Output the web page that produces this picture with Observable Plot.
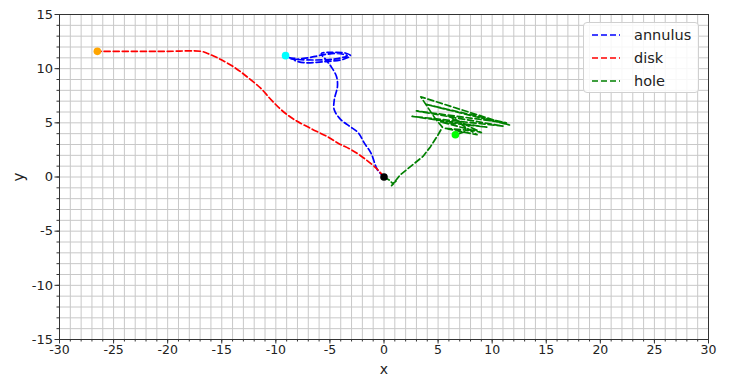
<!DOCTYPE html>
<html>
<head>
<meta charset="utf-8">
<script src="https://cdn.jsdelivr.net/npm/d3@7"></script>
<script src="https://cdn.jsdelivr.net/npm/@observablehq/plot@0.6"></script>
<style>
  body { margin: 0; background: #fff; font-family: "DejaVu Sans", sans-serif; }
  #wrap { position: relative; width: 732px; height: 377px; }
  #legend { position: absolute; left: 583px; top: 22px; width: 116px; height: 71px;
    box-sizing: border-box; border: 1px solid #d0d0d0; border-radius: 4px;
    background: rgba(255,255,255,0.85); font-size: 14.5px; color: #222; }
  .row { position: absolute; left: 8px; display: flex; align-items: center; height: 18px; }
  .row span { margin-left: 14px; }
</style>
</head>
<body>
<div id="wrap"><div id="legend"></div></div>
<script>
// series names and colours
const seriesNames = ["annulus", "disk", "hole"];
const seriesColors = ["#0000ff", "#ff0000", "#008000"];

// annulus path (blue)
const annulusX = [0, -0.6, -1.2, -1.8, -2.4, -3.2, -4.0, -4.6, -4.6, -4.3, -4.4, -4.9, -5.35, -5.8, -5.0, -3.6, -3.1, -3.8, -5.5, -7.4, -8.3, -7.0, -5.5, -4.3, -3.4, -4.5, -6.5, -8.0, -8.6, -8.2, -8.7, -9.1];
const annulusY = [0, 0.65, 2.2, 3.1, 4.1, 4.7, 5.3, 6.2, 7.1, 8.4, 9.3, 10.2, 10.8, 11.4, 11.5, 11.45, 11.2, 10.85, 10.65, 10.55, 10.8, 11.0, 11.3, 11.4, 11.2, 10.9, 10.8, 10.85, 10.9, 10.95, 11.0, 11.2];

// disk path (red)
const diskX = [0, -0.7, -1.8, -3.0, -4.2, -5.2, -6.8, -8.3, -9.5, -10.5, -11.4, -12.6, -13.8, -15.2, -16.3, -16.9, -20, -23, -26.5];
const diskY = [0, 0.8, 1.7, 2.5, 3.1, 3.7, 4.5, 5.3, 6.2, 7.2, 8.2, 9.2, 10.1, 10.9, 11.4, 11.6, 11.6, 11.6, 11.6];

// hole path (green)
const holeX = [0, 0.5, 0.8, 1.1, 0.7, 1.5, 2.5, 3.6, 4.3, 5.0, 5.4, 4.8, 3.4, 11.6, 3.9, 11.3, 3.0, 11.0, 2.6, 9.5, 5.2, 9.0, 6.0, 8.6, 5.6, 7.8, 6.6];
const holeY = [0, -0.3, -0.6, -0.4, -0.8, 0.2, 1.0, 1.9, 2.8, 3.9, 4.6, 5.3, 7.4, 4.8, 6.7, 5.0, 6.1, 4.7, 5.6, 4.6, 5.1, 4.1, 5.6, 3.9, 4.5, 4.3, 3.9];

// marker points
const markerX = [0, -26.5, -9.1, 6.6];
const markerY = [0, 11.6, 11.2, 3.9];
const markerColors = ["#000000", "#ffa500", "#00ffff", "#00ff00"];

// axis ticks
const majorTicksX = [-30, -25, -20, -15, -10, -5, 0, 5, 10, 15, 20, 25, 30];
const majorTicksY = [-15, -10, -5, 0, 5, 10, 15];
const minorTicksX = d3.range(-30, 31, 1);
const minorTicksY = d3.range(-15, 16, 1);

const toPts = (xs, ys) => xs.map((x, i) => ({x, y: ys[i]}));
const annulus = toPts(annulusX, annulusY);
const disk = toPts(diskX, diskY);
const hole = toPts(holeX, holeY);
const markers = markerX.map((x, i) => ({x, y: markerY[i], c: markerColors[i]}));

const dash = "6,3";
const lw = 1.7;
const chart = Plot.plot({
  width: 732,
  height: 377,
  marginLeft: 59,
  marginRight: 24,
  marginTop: 14,
  marginBottom: 38,
  style: {fontFamily: "DejaVu Sans, sans-serif", fontSize: "13px", color: "#222", background: "#fff"},
  x: {domain: [-30, 30]},
  y: {domain: [-15, 15]},
  marks: [
    Plot.gridX(minorTicksX, {stroke: "#c8c8c8", strokeOpacity: 1, strokeWidth: 1}),
    Plot.gridY(minorTicksY, {stroke: "#c8c8c8", strokeOpacity: 1, strokeWidth: 1}),
    Plot.axisX(minorTicksX, {tickSize: 2.5, text: null, label: null, stroke: "#333"}),
    Plot.axisY(minorTicksY, {tickSize: 2.5, text: null, label: null, stroke: "#333"}),
    Plot.axisX(majorTicksX, {tickSize: 4.5, tickPadding: 1.5, tickFormat: d => String(d), fontSize: 12.5,
      label: null, stroke: "#333"}),
    Plot.axisY(majorTicksY, {tickSize: 4.5, tickPadding: 2, tickFormat: d => String(d), fontSize: 13,
      label: null, stroke: "#333"}),
    Plot.axisX({ticks: [], label: "x", labelAnchor: "center", labelArrow: "none", labelOffset: 34, fontSize: 14}),
    Plot.axisY({ticks: [], label: "y", labelAnchor: "center", labelArrow: "none", labelOffset: 46, fontSize: 15}),
    Plot.frame({stroke: "#333", strokeWidth: 1}),
    Plot.line(annulus, {x: "x", y: "y", stroke: seriesColors[0], strokeWidth: lw, strokeDasharray: dash, curve: "catmull-rom"}),
    Plot.line(disk, {x: "x", y: "y", stroke: seriesColors[1], strokeWidth: lw, strokeDasharray: dash, curve: "catmull-rom"}),
    Plot.line(hole, {x: "x", y: "y", stroke: seriesColors[2], strokeWidth: lw, strokeDasharray: dash}),
    Plot.dot(markers, {x: "x", y: "y", fill: "c", r: 3.8, stroke: "none"})
  ]
});
document.getElementById("wrap").prepend(chart);

const legend = document.getElementById("legend");
seriesNames.forEach((name, i) => {
  const row = document.createElement("div");
  row.className = "row";
  row.style.top = (3 + i * 23) + "px";
  row.innerHTML = `<svg width="28" height="4"><line x1="0" x2="28" y1="2" y2="2" stroke="${seriesColors[i]}" stroke-width="${lw}" stroke-dasharray="${dash}"/></svg><span>${name}</span>`;
  legend.appendChild(row);
});
</script>
</body>
</html>
